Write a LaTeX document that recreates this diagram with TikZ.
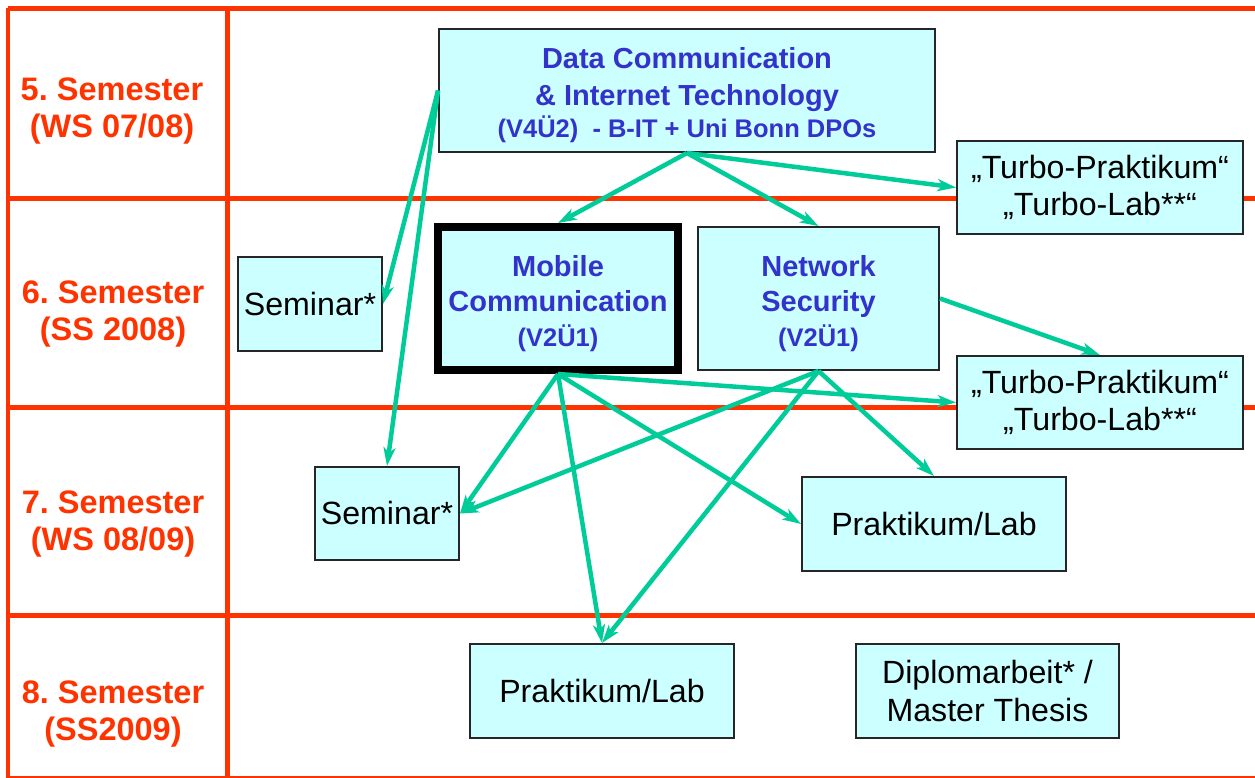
\documentclass[tikz,border=0pt]{standalone}
\usepackage{fontspec}
\setmainfont{Liberation Sans}
\usetikzlibrary{arrows.meta}
\definecolor{gridred}{RGB}{255,51,0}
\definecolor{boxfill}{RGB}{204,255,255}
\definecolor{titleblue}{RGB}{51,51,204}
\definecolor{arrowgreen}{RGB}{0,204,153}
\newcommand\smallcourse{\fontsize{14.5}{18}\selectfont}
\newcommand\topstrut{\rule{0pt}{17.5pt}}
\frenchspacing
\tikzset{
  gridline/.style={draw=gridred, line width=0.1cm},
  semlabel/.style={text=gridred, font=\fontsize{18.5}{21.5}\selectfont\bfseries, align=center},
  box/.style={draw=black!85, fill=boxfill, line width=0.04cm, inner sep=0pt, align=center,
              font=\fontsize{18.3}{21.5}\selectfont},
  course/.style={box, text=titleblue, font=\fontsize{16.5}{20}\selectfont\bfseries},
  flow/.style={draw=arrowgreen, line width=0.09cm, -{Stealth[length=0.37cm,width=0.24cm,inset=0.1cm]}},
}
\begin{document}
\begin{tikzpicture}[x=0.02cm, y=-0.02cm]
\useasboundingbox (0,0) rectangle (1255,778);
% grid
\draw[gridline] (8,8) -- (1255,8);
\draw[gridline] (8,198) -- (1255,198);
\draw[gridline] (8,407) -- (1255,407);
\draw[gridline] (8,615) -- (1255,615);
\draw[gridline] (8,778) -- (1255,778);
\draw[gridline] (8,8) -- (8,778);
\draw[gridline] (227,8) -- (227,778);
% semester labels
\node[semlabel] (s5) at (112,111) {5. Semester\\(WS 07/08)};
\node[semlabel] (s6) at (113,314) {6. Semester\\(SS 2008)};
\node[semlabel] (s7) at (113,524) {7. Semester\\(WS 08/09)};
\node[semlabel] (s8) at (113,714) {8. Semester\\(SS2009)};
% boxes
\node[course, minimum width=9.92cm, minimum height=2.46cm, font=\fontsize{16.5}{21}\selectfont\bfseries]
  (DC) at (687,90.5) {\topstrut Data Communication\\\& Internet Technology\\[-3pt]{\smallcourse (V4Ü2)\ \ - B-IT + Uni Bonn DPOs}};
\node[box, minimum width=5.72cm, minimum height=1.86cm] (T1) at (1100,187.5) {„Turbo-Praktikum“\\„Turbo-Lab**“};
\node[box, minimum width=5.72cm, minimum height=1.86cm] (T2) at (1100,402.5) {„Turbo-Praktikum“\\„Turbo-Lab**“};
\node[course, minimum width=4.82cm, minimum height=2.86cm] (NS) at (818.5,298.5) {\topstrut Network\\Security\\{\smallcourse (V2Ü1)}};
\node[course, draw=black, line width=0.16cm, minimum width=4.8cm, minimum height=2.86cm] (MC) at (558,298.5) {\topstrut Mobile\\Communication\\{\smallcourse (V2Ü1)}};
\node[box, minimum width=2.88cm, minimum height=1.88cm] (Sem1) at (310,304) {Seminar*};
\node[box, minimum width=2.88cm, minimum height=1.86cm] (Sem2) at (387,513.5) {Seminar*};
\node[box, minimum width=5.28cm, minimum height=1.88cm] (PL1) at (934,524) {Praktikum/Lab};
\node[box, minimum width=5.28cm, minimum height=1.88cm] (PL2) at (602,691) {Praktikum/Lab};
\node[box, minimum width=5.26cm, minimum height=1.88cm] (DA) at (987.5,691) {Diplomarbeit* /\\Master Thesis};
% arrows
\draw[flow] (DC.west) -- (Sem1.east);
\draw[flow] (DC.west) -- (Sem2.north);
\draw[flow] (DC.south) -- (MC.north);
\draw[flow] (DC.south) -- (NS.north);
\draw[flow] (DC.south) -- (T1.west);
\draw[flow] (NS.east) -- (T2.north);
\draw[flow] (MC.south) -- (Sem2.east);
\draw[flow] (MC.south) -- (PL2.north);
\draw[flow] (MC.south) -- (PL1.west);
\draw[flow] (MC.south) -- (T2.west);
\draw[flow] (NS.south) -- (Sem2.east);
\draw[flow] (NS.south) -- (PL2.north);
\draw[flow] (NS.south) -- (PL1.north);
\end{tikzpicture}
\end{document}
